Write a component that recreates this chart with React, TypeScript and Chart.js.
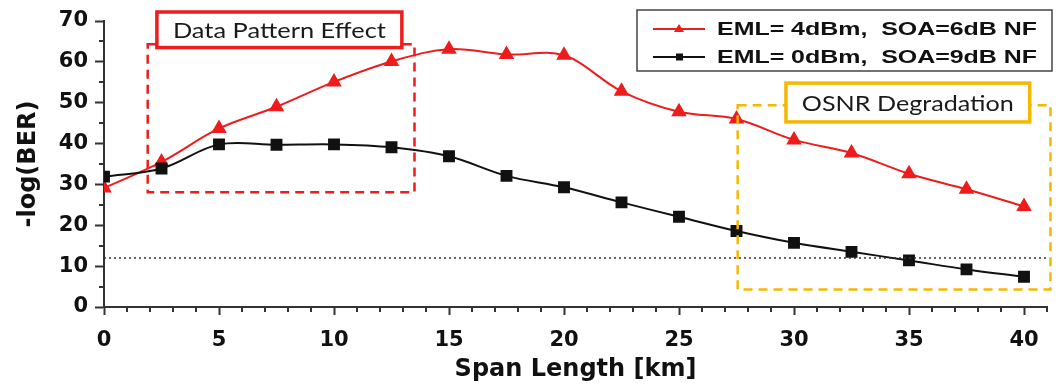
import React, { useEffect, useRef } from "react";
import { Chart, registerables } from "chart.js";

Chart.register(...registerables);

// ---- data ----
const spanKm = [0, 2.5, 5, 7.5, 10, 12.5, 15, 17.5, 20, 22.5, 25, 27.5, 30, 32.5, 35, 37.5, 40];
const eml4Soa6 = [29.1, 35.5, 43.7, 49, 55.1, 60.1, 63.1, 61.8, 61.6, 52.8, 47.8, 46.0, 40.9, 37.7, 32.6, 28.8, 24.6];
const eml0Soa9 = [31.9, 33.9, 39.8, 39.7, 39.8, 39.1, 36.9, 32.1, 29.3, 25.6, 22.1, 18.6, 15.7, 13.5, 11.4, 9.2, 7.4];
const fecLimit = 12;
const xTickValues = [0, 5, 10, 15, 20, 25, 30, 35, 40];
const yTickValues = [0, 10, 20, 30, 40, 50, 60, 70];
const seriesLabels = ["EML= 4dBm,  SOA=6dB NF", "EML= 0dBm,  SOA=9dB NF"];
const annotationLabels = ["Data Pattern Effect", "OSNR Degradation"];
const xTitle = "Span Length [km]";
const yTitle = "-log(BER)";

const RED = "#ee1c1c";
const BLACK = "#111111";
const GOLD = "#f5b800";
const AXIS = "#333333";
const BOLD = "'DejaVu Sans', sans-serif";
const ARIAL = "'Liberation Sans', Arial, sans-serif";
const LABEL_FONT = "Lato, 'Open Sans', sans-serif";

function stretchedText(ctx: CanvasRenderingContext2D, text: string, x: number, y: number, width: number, align: "left" | "center") {
  const w = ctx.measureText(text).width;
  const s = width / w;
  ctx.save();
  ctx.translate(x, y);
  ctx.scale(s, 1);
  ctx.textAlign = align;
  ctx.fillText(text, 0, 0);
  ctx.restore();
}

const decorPlugin = {
  id: "decor",
  afterDraw(chart: any) {
    const { ctx, scales, chartArea } = chart;
    const xs = scales.x;
    const ys = scales.y;
    ctx.save();
    // minor ticks
    ctx.strokeStyle = AXIS;
    ctx.lineWidth = 2;
    ctx.beginPath();
    for (let v = 1; v <= 41; v++) {
      if (v % 5 === 0) continue;
      const px = Math.round(xs.getPixelForValue(v));
      ctx.moveTo(px, chartArea.bottom);
      ctx.lineTo(px, chartArea.bottom + 5);
    }
    for (let v = 5; v < 70; v += 10) {
      const py = Math.round(ys.getPixelForValue(v));
      ctx.moveTo(chartArea.left, py);
      ctx.lineTo(chartArea.left - 5, py);
    }
    ctx.stroke();

    // annotation boxes (dashed regions)
    const box = (x0: number, y0: number, x1: number, y1: number) => {
      const a = xs.getPixelForValue(x0), b = xs.getPixelForValue(x1);
      const c = ys.getPixelForValue(y0), d = ys.getPixelForValue(y1);
      return [Math.min(a, b), Math.min(c, d), Math.abs(b - a), Math.abs(d - c)];
    };
    ctx.lineWidth = 2.5;
    ctx.setLineDash([9, 6]);
    ctx.strokeStyle = RED;
    let [bx, by, bw, bh] = box(1.9, 64.3, 13.5, 28.1);
    ctx.strokeRect(bx, by, bw, bh);
    ctx.strokeStyle = GOLD;
    [bx, by, bw, bh] = box(27.55, 49.4, 41.15, 4.3);
    ctx.strokeRect(bx, by, bw, bh);
    ctx.setLineDash([]);

    // label boxes
    ctx.lineWidth = 3.5;
    ctx.fillStyle = "#ffffff";
    ctx.strokeStyle = RED;
    [bx, by, bw, bh] = box(2.3, 72.2, 12.95, 63.5);
    ctx.fillRect(bx, by, bw, bh);
    ctx.strokeRect(bx, by, bw, bh);
    ctx.fillStyle = "#1a1a1a";
    ctx.font = `22px ${LABEL_FONT}`;
    ctx.textBaseline = "middle";
    stretchedText(ctx, annotationLabels[0], bx + bw / 2, by + bh / 2 + 1, 213, "center");

    ctx.strokeStyle = GOLD;
    ctx.fillStyle = "#ffffff";
    [bx, by, bw, bh] = box(29.65, 54.8, 40.25, 45.3);
    ctx.fillRect(bx, by, bw, bh);
    ctx.strokeRect(bx, by, bw, bh);
    ctx.fillStyle = "#1a1a1a";
    stretchedText(ctx, annotationLabels[1], bx + bw / 2, by + bh / 2 + 1, 212, "center");

    // legend
    const lx = 637, ly = 10, lw = 415, lh = 61;
    ctx.fillStyle = "#ffffff";
    ctx.fillRect(lx, ly, lw, lh);
    ctx.lineWidth = 1.5;
    ctx.strokeStyle = "#444444";
    ctx.strokeRect(lx, ly, lw, lh);
    const rows = [
      { y: 29, color: RED, style: "triangle" },
      { y: 57, color: BLACK, style: "rect" },
    ];
    ctx.font = `bold 19px ${ARIAL}`;
    ctx.textBaseline = "middle";
    rows.forEach((r, i) => {
      ctx.strokeStyle = r.color;
      ctx.fillStyle = r.color;
      ctx.lineWidth = 2;
      ctx.beginPath();
      ctx.moveTo(653, r.y);
      ctx.lineTo(705, r.y);
      ctx.stroke();
      ctx.beginPath();
      if (r.style === "triangle") {
        ctx.moveTo(679, r.y - 5);
        ctx.lineTo(684, r.y + 3);
        ctx.lineTo(674, r.y + 3);
        ctx.closePath();
      } else {
        ctx.rect(676, r.y - 3.5, 7, 7);
      }
      ctx.fill();
      ctx.fillStyle = "#111111";
      stretchedText(ctx, seriesLabels[i], 717, r.y + 1, 320, "left");
    });
    ctx.restore();
  },
};

export default function App() {
  const ref = useRef<HTMLCanvasElement>(null);
  useEffect(() => {
    const canvas = ref.current!;
    const chart = new Chart(canvas, {
      type: "line",
      data: {
        datasets: [
          {
            label: "FEC limit",
            data: [{ x: 0, y: fecLimit }, { x: 41, y: fecLimit }],
            borderColor: "#333333",
            borderWidth: 1.5,
            borderDash: [2, 3],
            pointRadius: 0,
            tension: 0,
          },
          {
            label: seriesLabels[1],
            data: spanKm.map((x, i) => ({ x, y: eml0Soa9[i] })),
            borderColor: BLACK,
            backgroundColor: BLACK,
            borderWidth: 2,
            pointStyle: "rect",
            pointRadius: 7,
            tension: 0.35,
          },
          {
            label: seriesLabels[0],
            data: spanKm.map((x, i) => ({ x, y: eml4Soa6[i] })),
            borderColor: RED,
            backgroundColor: RED,
            borderWidth: 2,
            pointStyle: "triangle",
            pointRadius: 7,
            tension: 0.35,
          },
        ],
      },
      options: {
        responsive: false,
        animation: false,
        layout: { padding: { left: 0, top: 21, right: 6, bottom: 0 } },
        plugins: { legend: { display: false }, tooltip: { enabled: false } },
        scales: {
          x: {
            type: "linear",
            min: 0,
            max: 41,
            afterBuildTicks: (s: any) => {
              s.ticks = xTickValues.map((v) => ({ value: v }));
            },
            afterFit: (s: any) => {
              s.height = 78;
            },
            grid: { display: true, drawOnChartArea: false, drawTicks: true, tickLength: 8, tickWidth: 2, tickColor: AXIS },
            border: { display: true, color: AXIS, width: 2 },
            ticks: { color: "#111", font: { family: BOLD, size: 21, weight: "bold" }, padding: 13, maxRotation: 0, autoSkip: false },
            title: { display: true, text: xTitle, color: "#111", font: { family: BOLD, size: 24, weight: "bold" }, padding: { top: 0, bottom: 1 } },
          },
          y: {
            min: 0,
            max: 70,
            afterBuildTicks: (s: any) => {
              s.ticks = yTickValues.map((v) => ({ value: v }));
            },
            afterFit: (s: any) => {
              s.width = 104;
            },
            grid: { display: true, drawOnChartArea: false, drawTicks: true, tickLength: 9, tickWidth: 2, tickColor: AXIS },
            border: { display: true, color: AXIS, width: 2 },
            ticks: { color: "#111", font: { family: BOLD, size: 21, weight: "bold" }, padding: 7 },
            title: { display: true, text: yTitle, color: "#111", font: { family: BOLD, size: 24, weight: "bold" }, padding: { top: 14, bottom: 0 } },
          },
        },
      },
      plugins: [decorPlugin],
    } as any);
    return () => chart.destroy();
  }, []);
  return (
    <div style={{ position: "absolute", left: 0, top: 0, width: 1056, height: 385, background: "#fff" }}>
      <canvas ref={ref} width={1056} height={385} style={{ display: "block" }} />
    </div>
  );
}
